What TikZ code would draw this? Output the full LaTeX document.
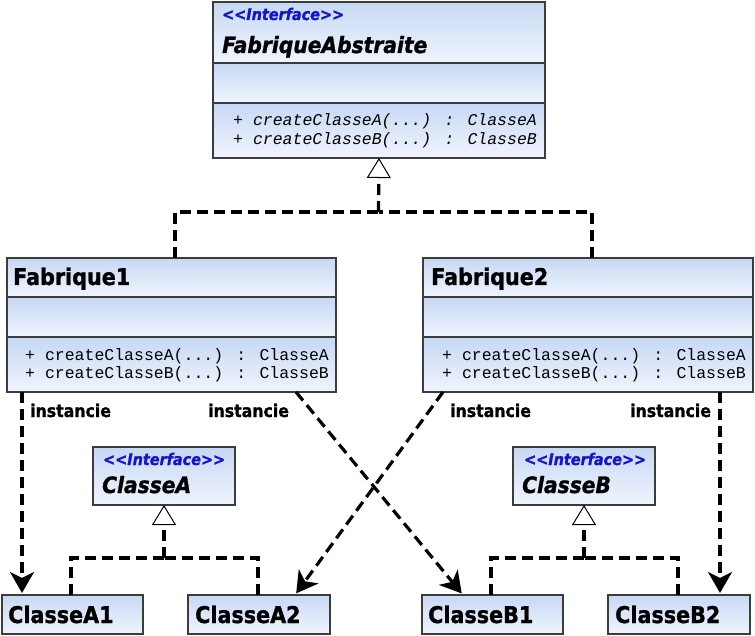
\documentclass[tikz,border=0pt]{standalone}
\usepackage{fontspec}
\setmainfont{DejaVu Sans}[FakeStretch=0.9, BoldFeatures={FakeBold=1.2}, BoldItalicFeatures={FakeBold=1.2}]
\newfontfamily\monofont{Liberation Mono}
\usetikzlibrary{arrows.meta}
\definecolor{cTop}{RGB}{199,216,244}
\definecolor{cBot}{RGB}{240,245,253}
\definecolor{boxline}{RGB}{60,60,60}
\definecolor{stereo}{RGB}{20,20,205}
\newcommand\umlcomp[4]{\shade[compart] (#1,-#2) rectangle (#3,-#4);}
\newcommand\umlframe[5]{\node[box, minimum width={(#4-#2)*1pt}, minimum height={(#5-#3)*1pt}] (#1) at (#2,-#3) {};}
\newcommand\umlsep[3]{\draw[divider] (#1,-#3) -- (#2,-#3);}
\tikzset{
 box/.style={draw=boxline, line width=1.2pt, inner sep=0pt, outer sep=0pt, anchor=north west},
 compart/.style={top color=cTop, bottom color=cBot},
 divider/.style={draw=boxline, line width=1.2pt},
 clsname/.style={anchor=base west, inner sep=0pt, font=\fontsize{23}{26}\selectfont\bfseries},
 iname/.style={anchor=base west, inner sep=0pt, font=\fontsize{22.5}{26}\selectfont\bfseries\itshape},
 stereotype/.style={anchor=base west, inner sep=0pt, text=stereo, font=\fontsize{16}{18}\selectfont\bfseries\itshape},
 meth/.style={anchor=base west, inner sep=0pt, font=\monofont\fontsize{16.5}{18}\selectfont},
 imeth/.style={anchor=base west, inner sep=0pt, font=\monofont\fontsize{16.5}{18}\selectfont\itshape},
 lbl/.style={anchor=base west, inner sep=0pt, font=\fontsize{17.5}{20}\selectfont\bfseries},
 dashline/.style={line width=3.2pt, dash pattern=on 11pt off 6pt},
 realize/.style={dashline, -{Triangle[open, fill=white, length=20pt, width=24pt, line width=1pt]}},
 inst/.style={dashline, -{Stealth[length=21pt, width=24pt, inset=6pt]}, shorten >=2pt},
}
\begin{document}
\begin{tikzpicture}[x=1pt,y=1pt]
\useasboundingbox (0,0) rectangle (755,-636);
% FabriqueAbstraite
\umlcomp{213}{2}{545}{63}
\umlcomp{213}{63}{545}{103}
\umlcomp{213}{103}{545}{158}
\umlframe{fa}{213}{2}{545}{158}
\umlsep{213}{545}{63}
\umlsep{213}{545}{103}
% Fabrique1
\umlcomp{7}{258}{336}{297}
\umlcomp{7}{297}{336}{337}
\umlcomp{7}{337}{336}{392}
\umlframe{f1}{7}{258}{336}{392}
\umlsep{7}{336}{297}
\umlsep{7}{336}{337}
% Fabrique2
\umlcomp{423}{258}{753}{297}
\umlcomp{423}{297}{753}{337}
\umlcomp{423}{337}{753}{392}
\umlframe{f2}{423}{258}{753}{392}
\umlsep{423}{753}{297}
\umlsep{423}{753}{337}
% interfaces
\umlcomp{93}{447}{235}{505}
\umlframe{ia}{93}{447}{235}{505}
\umlcomp{513}{447}{655}{505}
\umlframe{ib}{513}{447}{655}{505}
% concrete classes
\umlcomp{2}{595}{143}{634}
\umlframe{a1}{2}{595}{143}{634}
\umlcomp{188}{595}{330}{634}
\umlframe{a2}{188}{595}{330}{634}
\umlcomp{422}{595}{563}{634}
\umlframe{b1}{422}{595}{563}{634}
\umlcomp{608}{595}{750}{634}
\umlframe{b2}{608}{595}{750}{634}
% texts
\node[stereotype] (faS) at (222,-20) {<\kern0pt<Interface>\kern0pt>};
\node[iname] (faN) at (222,-53) {FabriqueAbstraite};
\node[imeth] (faM1) at (233,-126) {+ createClasseA(...) : ClasseA};
\node[imeth] (faM2) at (233,-145) {+ createClasseB(...) : ClasseB};
\node[clsname] (f1N) at (13,-285) {Fabrique1};
\node[meth] (f1M1) at (25,-360) {+ createClasseA(...) : ClasseA};
\node[meth] (f1M2) at (25,-378) {+ createClasseB(...) : ClasseB};
\node[clsname] (f2N) at (431,-285) {Fabrique2};
\node[meth] (f2M1) at (442,-360) {+ createClasseA(...) : ClasseA};
\node[meth] (f2M2) at (442,-378) {+ createClasseB(...) : ClasseB};
\node[stereotype] (iaS) at (103,-465) {<\kern0pt<Interface>\kern0pt>};
\node[iname] (iaN) at (102,-493) {ClasseA};
\node[stereotype] (ibS) at (524,-465) {<\kern0pt<Interface>\kern0pt>};
\node[iname] (ibN) at (522,-493) {ClasseB};
\node[clsname] (a1N) at (8,-623) {ClasseA1};
\node[clsname] (a2N) at (195,-623) {ClasseA2};
\node[clsname] (b1N) at (428,-623) {ClasseB1};
\node[clsname] (b2N) at (615,-623) {ClasseB2};
\node[lbl] (l1) at (30,-417) {instancie};
\node[lbl] (l2) at (208,-417) {instancie};
\node[lbl] (l3) at (450,-417) {instancie};
\node[lbl] (l4) at (630,-417) {instancie};
% realization connectors
\coordinate (ja) at (378.5,-212);
\draw[dashline] ([xshift=168pt]f1.north west) |- (ja);
\draw[dashline] ([xshift=169pt]f2.north west) |- (ja);
\draw[realize] (ja) -- (fa.south);
\coordinate (jA) at (164,-558);
\draw[dashline] ([xshift=69pt]a1.north west) |- (jA);
\draw[dashline] ([xshift=70pt]a2.north west) |- (jA);
\draw[realize] (jA) -- (ia.south);
\coordinate (jB) at (584,-558);
\draw[dashline] ([xshift=69pt]b1.north west) |- (jB);
\draw[dashline] ([xshift=70pt]b2.north west) |- (jB);
\draw[realize] (jB) -- (ib.south);
% instantiation connectors
\draw[inst] ([xshift=15pt]f1.south west) -- ([xshift=20pt]a1.north west);
\draw[inst] ([xshift=289pt]f1.south west) -- ([xshift=41pt]b1.north west);
\draw[inst] ([xshift=20pt]f2.south west) -- ([xshift=107pt]a2.north west);
\draw[inst] ([xshift=297pt]f2.south west) -- ([xshift=112pt]b2.north west);
\end{tikzpicture}
\end{document}
